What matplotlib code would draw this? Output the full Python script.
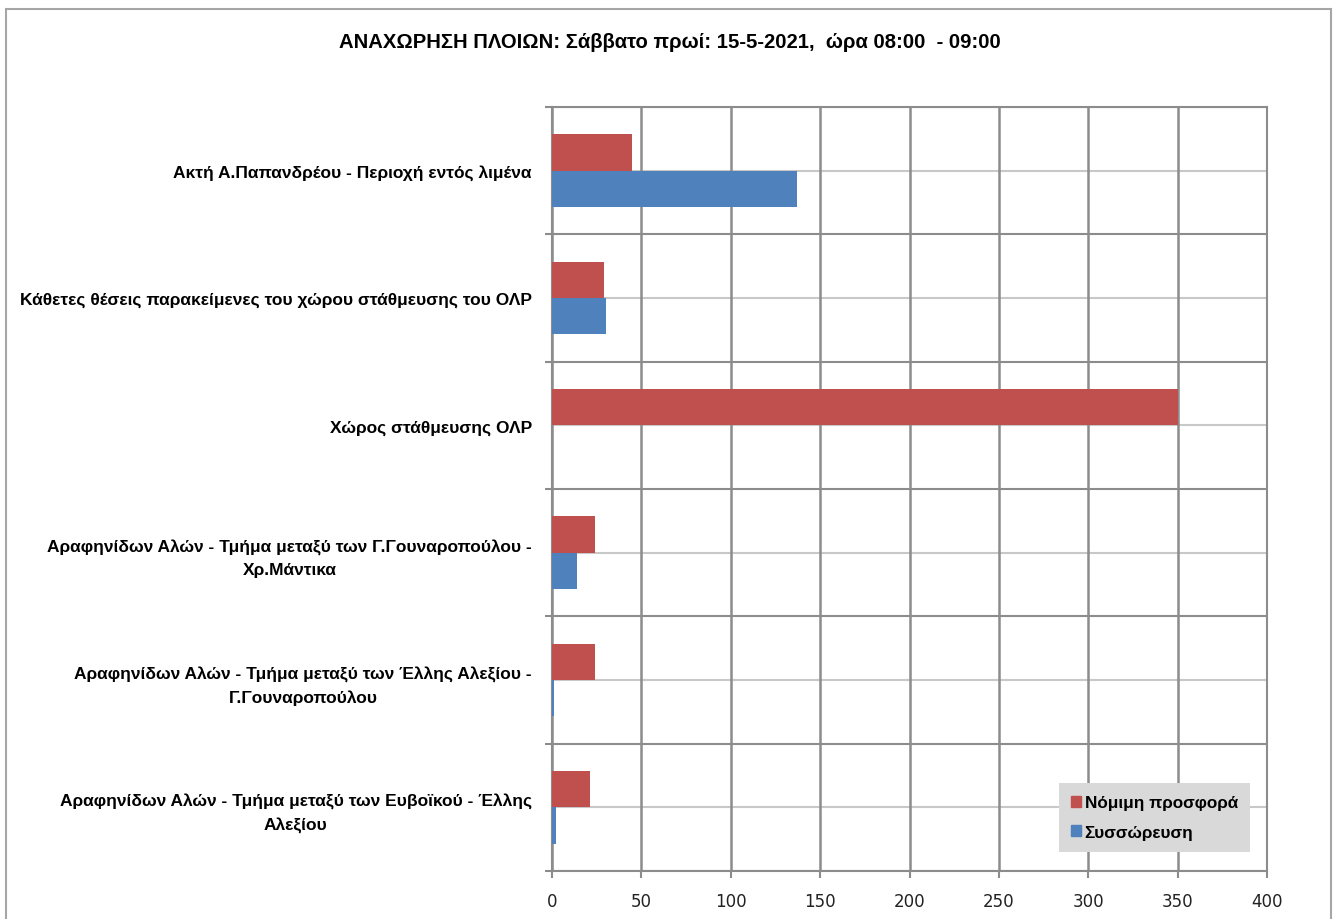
import matplotlib
matplotlib.use("Agg")
import matplotlib.pyplot as plt
from matplotlib.patches import Patch, Rectangle
import numpy as np

# categories top → bottom
cats = [
    "Ακτή Α.Παπανδρέου - Περιοχή εντός λιμένα",
    "Κάθετες θέσεις παρακείμενες του χώρου στάθμευσης του ΟΛΡ",
    "Χώρος στάθμευσης ΟΛΡ",
    "Αραφηνίδων Αλών - Τμήμα μεταξύ των Γ.Γουναροπούλου -\nΧρ.Μάντικα",
    "Αραφηνίδων Αλών - Τμήμα μεταξύ των Έλλης Αλεξίου -\nΓ.Γουναροπούλου",
    "Αραφηνίδων Αλών - Τμήμα μεταξύ των Ευβοϊκού - Έλλης\nΑλεξίου",
]
nomimi = [45, 29, 350, 24, 24, 21]       # Νόμιμη προσφορά
syssorefsi = [137, 30, 0, 14, 1, 2]      # Συσσώρευση
xticks = [0, 50, 100, 150, 200, 250, 300, 350, 400]

title = "ΑΝΑΧΩΡΗΣΗ ΠΛΟΙΩΝ: Σάββατο πρωί: 15-5-2021,  ώρα 08:00  - 09:00"
FAM = ["Liberation Sans Narrow", "Liberation Sans", "DejaVu Sans"]
RED, BLUE = "#c0504d", "#4f81bd"
GRID = "#8c8c8c"

W, H = 1333, 920
fig = plt.figure(figsize=(W / 100, H / 100), dpi=100)
fig.patch.set_facecolor("white")

# outer chart frame
fig.patches.append(Rectangle((6 / W, -0.05), (1331 - 6) / W, 1.05 - 10 / H,
                             transform=fig.transFigure, fill=False,
                             edgecolor="#a6a6a6", lw=1.5))

ax = fig.add_axes([552 / W, 1 - 872 / H, (1267 - 552) / W, (872 - 108) / H])

y = np.arange(len(cats))
h = 0.285
ax.barh(y - h / 2, nomimi, height=h, color=RED, zorder=3, label="Νόμιμη προσφορά")
ax.barh(y + h / 2, syssorefsi, height=h, color=BLUE, zorder=3, label="Συσσώρευση")

ax.set_xlim(0, 400)
ax.set_ylim(len(cats) - 0.5, -0.5)

# light lines through category centres, darker lines on category borders
for yc in y:
    ax.axhline(yc, color="#c8c8c8", lw=1.5, zorder=1)
for yb in np.arange(len(cats) + 1) - 0.5:
    ax.axhline(yb, color=GRID, lw=1.5, zorder=1)
for xv in xticks:
    ax.axvline(xv, color=GRID, lw=1.8, zorder=1)

ax.set_yticks(y)
ax.set_yticklabels(cats, fontsize=12.5, fontweight="bold", family=FAM,
                   multialignment="center", linespacing=1.6)
ax.set_yticks(np.arange(len(cats) + 1) - 0.5, minor=True)
ax.tick_params(axis="y", which="major", length=0, pad=14.5)
ax.tick_params(axis="y", which="minor", length=5, color=GRID, width=1.5)
ax.set_xticks(xticks)
ax.set_xticklabels([str(v) for v in xticks], fontsize=12, color="#222222")
ax.tick_params(axis="x", length=5, color=GRID, width=1.5, pad=10)
for s in ax.spines.values():
    s.set_color(GRID)
    s.set_linewidth(1.5)

handles = [Patch(color=RED, label="Νόμιμη προσφορά"),
           Patch(color=BLUE, label="Συσσώρευση")]
leg = ax.legend(handles=handles, loc="lower right", bbox_to_anchor=(0.976, 0.025),
                borderaxespad=0,
                prop={"family": FAM, "weight": "bold", "size": 12.3},
                facecolor="#d9d9d9", edgecolor="none", framealpha=1, fancybox=False,
                handlelength=0.6, handleheight=0.6, handletextpad=0.2,
                labelspacing=0.85, borderpad=0.7)
leg.set_zorder(5)

fig.text(670 / W, 1 - 42 / H, title, ha="center", va="center", fontsize=14.6,
         fontweight="bold", family=FAM)

fig.savefig("out.png", dpi=100)
